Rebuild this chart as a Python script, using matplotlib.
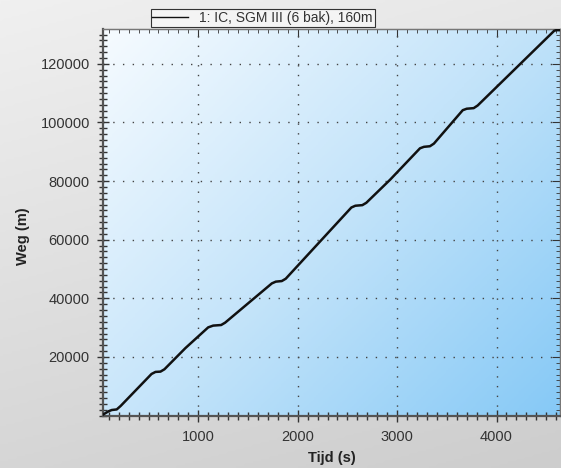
import numpy as np
import matplotlib.pyplot as plt
from matplotlib.ticker import MultipleLocator
from matplotlib.colors import LinearSegmentedColormap

# rijdende trein: tijd (s) tegen afgelegde weg (m), met stops
tijd = [40, 100, 130, 180, 220, 530, 570, 620, 660, 870, 1100, 1150, 1230, 1270,
        1740, 1780, 1840, 1880, 2540, 2580, 2650, 2690, 2930, 3230, 3270, 3330,
        3370, 3660, 3700, 3770, 3810, 4580, 4600, 4640]
weg = [300, 1500, 1900, 2100, 3300, 14200, 14900, 15000, 15800, 23000, 30100,
       30700, 30900, 31700, 45100, 45700, 45900, 46700, 71000, 71600, 71800,
       72600, 80500, 91200, 91700, 91900, 92800, 104200, 104700, 104900, 105800,
       131300, 131500, 131500]
legenda = "1: IC, SGM III (6 bak), 160m"

plt.rcParams['font.family'] = ['Liberation Sans', 'DejaVu Sans']

fig = plt.figure(figsize=(5.61, 4.68), dpi=100)

# grijze achtergrond met verloop
bg = fig.add_axes([0, 0, 1, 1], zorder=-10)
yy, xx = np.mgrid[0:1:200j, 0:1:200j]
grad = 0.75 * yy + 0.25 * xx
cm_bg = LinearSegmentedColormap.from_list("bg", ["#f0f0f0", "#cdcdcd"])
bg.imshow(grad, cmap=cm_bg, extent=[0, 1, 0, 1], aspect='auto', origin='upper')
bg.axis('off')

ax = fig.add_axes([0.1836, 0.112, 0.8146, 0.8254])
cm_ax = LinearSegmentedColormap.from_list("ax", ["#f6fbff", "#c4e4fa", "#86c9f6"])
grad2 = 0.45 * yy + 0.55 * xx
ax.imshow(grad2, cmap=cm_ax, extent=[0, 1, 0, 1], transform=ax.transAxes,
          aspect='auto', origin='upper', zorder=0)

ax.plot(tijd, weg, color='#111111', lw=1.8, zorder=3, label=legenda)

ax.set_xlim(42, 4638)
ax.set_ylim(0, 131800)
ax.xaxis.set_minor_locator(MultipleLocator(100))
ax.yaxis.set_minor_locator(MultipleLocator(2000))
ax.set_xticks([1000, 2000, 3000, 4000])
ax.set_yticks([20000, 40000, 60000, 80000, 100000, 120000])

ax.grid(True, which='major', color='#444444', linestyle=(0, (1, 6)), lw=1.0)
ax.tick_params(which='both', direction='inout', color='#333333', labelcolor='#333333',
               labelsize=10.5)
ax.tick_params(which='major', length=9, width=1)
ax.tick_params(which='minor', length=6, width=1)
ax.tick_params(axis='x', pad=6)
ax.tick_params(axis='y', pad=5)

# tikjes binnen aan boven- en rechterkant
sec_x = ax.secondary_xaxis('top')
sec_x.set_xticks([1000, 2000, 3000, 4000], labels=[])
sec_x.xaxis.set_minor_locator(MultipleLocator(100))
sec_x.tick_params(which='both', direction='in', color='#333333')
sec_x.tick_params(which='major', length=6)
sec_x.tick_params(which='minor', length=3)
sec_x.spines['top'].set_color('#777777')
sec_y = ax.secondary_yaxis('right')
sec_y.set_yticks([20000, 40000, 60000, 80000, 100000, 120000], labels=[])
sec_y.yaxis.set_minor_locator(MultipleLocator(2000))
sec_y.tick_params(which='both', direction='in', color='#333333')
sec_y.tick_params(which='major', length=6)
sec_y.tick_params(which='minor', length=3)
sec_y.spines['right'].set_color('#777777')

for s in ['left', 'bottom']:
    ax.spines[s].set_color('#555555')
    ax.spines[s].set_linewidth(1.6)
for s in ['top', 'right']:
    ax.spines[s].set_color('#777777')
    ax.spines[s].set_linewidth(1.0)

ax.set_xlabel("Tijd (s)", fontweight='bold', fontsize=10.5, color='#222222', labelpad=5)
ax.set_ylabel("Weg (m)", fontweight='bold', fontsize=10.5, color='#222222')
ax.yaxis.set_label_coords(-0.16, 0.465)

leg = fig.legend(loc='upper left', bbox_to_anchor=(0.256, 0.995), fontsize=10,
                 frameon=True, fancybox=False, edgecolor='#333333', framealpha=1,
                 handlelength=2.6, borderpad=0.12, handletextpad=0.8)
leg.get_frame().set_facecolor('#f4f4f4')
leg.get_frame().set_linewidth(0.8)
leg.get_lines()[0].set_linewidth(1.0)
for t in leg.get_texts():
    t.set_color('#333333')

fig.savefig("out.png", dpi=100)
